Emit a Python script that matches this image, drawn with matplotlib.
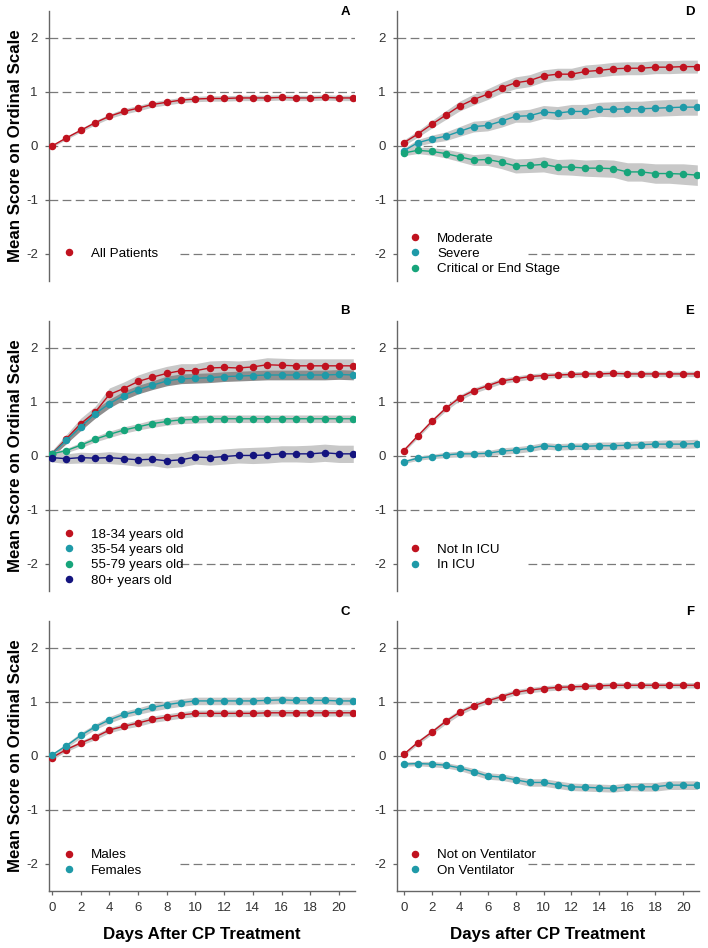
import matplotlib.pyplot as plt
from matplotlib.lines import Line2D
import numpy as np

plt.rcParams['font.family'] = ['Liberation Sans', 'DejaVu Sans']
plt.rcParams['axes.unicode_minus'] = False

days = list(range(22))

# Panel A - all patients
all_mean = [0.00, 0.15, 0.29, 0.43, 0.55, 0.64, 0.70, 0.77, 0.81, 0.85, 0.87, 0.88,
            0.88, 0.89, 0.89, 0.89, 0.90, 0.89, 0.89, 0.90, 0.89, 0.89]
all_se = [0.02, 0.03, 0.03, 0.04, 0.04, 0.05, 0.05, 0.05, 0.05, 0.05, 0.05, 0.05,
          0.05, 0.05, 0.05, 0.05, 0.05, 0.05, 0.05, 0.05, 0.05, 0.05]

# Panel B - age groups
age_18_34 = [0.04, 0.32, 0.60, 0.81, 1.14, 1.25, 1.38, 1.46, 1.53, 1.58, 1.58, 1.63,
             1.64, 1.63, 1.65, 1.69, 1.68, 1.67, 1.67, 1.67, 1.67, 1.67]
age_18_34_se = [0.06, 0.08, 0.10, 0.11, 0.12, 0.12, 0.12, 0.13, 0.13, 0.13, 0.13, 0.13,
                0.13, 0.13, 0.13, 0.13, 0.13, 0.13, 0.13, 0.13, 0.13, 0.13]
age_35_54 = [0.04, 0.29, 0.54, 0.78, 0.97, 1.12, 1.23, 1.31, 1.39, 1.43, 1.44, 1.45,
             1.47, 1.48, 1.49, 1.50, 1.50, 1.50, 1.50, 1.50, 1.51, 1.50]
age_35_54_se = [0.05, 0.06, 0.07, 0.08, 0.08, 0.08, 0.08, 0.08, 0.09, 0.09, 0.09, 0.09,
                0.09, 0.09, 0.09, 0.09, 0.09, 0.09, 0.09, 0.09, 0.09, 0.09]
age_55_79 = [0.04, 0.10, 0.20, 0.31, 0.40, 0.48, 0.54, 0.60, 0.64, 0.67, 0.68, 0.69,
             0.69, 0.69, 0.69, 0.69, 0.69, 0.69, 0.69, 0.69, 0.69, 0.69]
age_55_79_se = [0.04, 0.04, 0.05, 0.05, 0.06, 0.06, 0.06, 0.07, 0.07, 0.07, 0.07, 0.07,
                0.07, 0.07, 0.07, 0.07, 0.07, 0.07, 0.07, 0.07, 0.07, 0.07]
age_80 = [-0.03, -0.05, -0.03, -0.04, -0.03, -0.05, -0.07, -0.06, -0.09, -0.07, -0.02, -0.03,
          -0.01, 0.01, 0.01, 0.02, 0.04, 0.04, 0.04, 0.06, 0.04, 0.04]
age_80_se = [0.08, 0.09, 0.10, 0.10, 0.11, 0.11, 0.12, 0.12, 0.13, 0.13, 0.13, 0.14,
             0.14, 0.14, 0.15, 0.15, 0.15, 0.15, 0.16, 0.16, 0.16, 0.16]

# Panel C - sex
males = [-0.03, 0.12, 0.24, 0.35, 0.48, 0.55, 0.61, 0.68, 0.72, 0.76, 0.79, 0.79,
         0.79, 0.79, 0.79, 0.80, 0.80, 0.80, 0.80, 0.80, 0.80, 0.80]
males_se = [0.03, 0.04, 0.04, 0.05, 0.05, 0.05, 0.06, 0.06, 0.06, 0.06, 0.06, 0.06,
            0.06, 0.06, 0.06, 0.06, 0.06, 0.06, 0.06, 0.06, 0.06, 0.06]
females = [0.02, 0.19, 0.38, 0.54, 0.67, 0.77, 0.83, 0.90, 0.95, 0.99, 1.02, 1.02,
           1.02, 1.02, 1.02, 1.03, 1.04, 1.03, 1.03, 1.03, 1.02, 1.02]
females_se = [0.03, 0.04, 0.05, 0.05, 0.06, 0.06, 0.06, 0.07, 0.07, 0.07, 0.07, 0.07,
              0.07, 0.07, 0.07, 0.07, 0.07, 0.07, 0.07, 0.07, 0.07, 0.07]

# Panel D - severity
moderate = [0.06, 0.22, 0.40, 0.57, 0.74, 0.86, 0.96, 1.08, 1.17, 1.21, 1.30, 1.33,
            1.33, 1.38, 1.40, 1.43, 1.44, 1.44, 1.46, 1.46, 1.47, 1.47]
moderate_se = [0.05, 0.06, 0.07, 0.08, 0.09, 0.10, 0.10, 0.10, 0.11, 0.11, 0.11, 0.11,
               0.11, 0.12, 0.12, 0.12, 0.12, 0.12, 0.12, 0.12, 0.12, 0.12]
severe = [-0.09, 0.06, 0.13, 0.18, 0.27, 0.36, 0.38, 0.46, 0.55, 0.56, 0.63, 0.61,
          0.64, 0.64, 0.68, 0.68, 0.69, 0.69, 0.70, 0.71, 0.72, 0.72]
severe_se = [0.05, 0.06, 0.07, 0.08, 0.09, 0.10, 0.10, 0.11, 0.11, 0.12, 0.12, 0.12,
             0.13, 0.13, 0.13, 0.14, 0.14, 0.14, 0.15, 0.15, 0.15, 0.15]
critical = [-0.13, -0.08, -0.10, -0.14, -0.20, -0.26, -0.25, -0.30, -0.37, -0.36, -0.34, -0.39,
            -0.39, -0.41, -0.41, -0.42, -0.48, -0.48, -0.51, -0.51, -0.52, -0.54]
critical_se = [0.05, 0.06, 0.07, 0.08, 0.09, 0.10, 0.11, 0.12, 0.13, 0.13, 0.14, 0.14,
               0.15, 0.15, 0.16, 0.16, 0.17, 0.17, 0.18, 0.18, 0.19, 0.19]

# Panel E - ICU
not_icu = [0.10, 0.37, 0.64, 0.88, 1.08, 1.21, 1.30, 1.39, 1.43, 1.47, 1.49, 1.50,
           1.51, 1.52, 1.52, 1.53, 1.52, 1.52, 1.52, 1.52, 1.52, 1.52]
not_icu_se = [0.03, 0.04, 0.04, 0.05, 0.05, 0.05, 0.05, 0.05, 0.05, 0.05, 0.05, 0.05,
              0.05, 0.05, 0.05, 0.05, 0.05, 0.05, 0.05, 0.05, 0.05, 0.05]
icu = [-0.11, -0.04, -0.01, 0.02, 0.04, 0.04, 0.05, 0.09, 0.11, 0.14, 0.19, 0.17,
       0.18, 0.18, 0.19, 0.19, 0.20, 0.21, 0.22, 0.22, 0.22, 0.23]
icu_se = [0.03, 0.04, 0.04, 0.05, 0.05, 0.05, 0.05, 0.06, 0.06, 0.06, 0.06, 0.06,
          0.06, 0.06, 0.07, 0.07, 0.07, 0.07, 0.07, 0.08, 0.08, 0.08]

# Panel F - ventilator
not_vent = [0.03, 0.25, 0.44, 0.64, 0.81, 0.93, 1.02, 1.10, 1.18, 1.22, 1.25, 1.27,
            1.28, 1.29, 1.30, 1.31, 1.31, 1.31, 1.31, 1.31, 1.31, 1.31]
not_vent_se = [0.03, 0.04, 0.04, 0.05, 0.05, 0.05, 0.05, 0.05, 0.05, 0.05, 0.05, 0.05,
               0.05, 0.05, 0.05, 0.05, 0.05, 0.05, 0.05, 0.05, 0.05, 0.05]
on_vent = [-0.15, -0.14, -0.15, -0.17, -0.22, -0.29, -0.37, -0.39, -0.44, -0.49, -0.49, -0.53,
           -0.57, -0.58, -0.59, -0.60, -0.57, -0.57, -0.57, -0.54, -0.54, -0.54]
on_vent_se = [0.04, 0.04, 0.05, 0.05, 0.05, 0.06, 0.06, 0.06, 0.06, 0.07, 0.07, 0.07,
              0.07, 0.07, 0.07, 0.07, 0.07, 0.08, 0.08, 0.08, 0.08, 0.08]

RED = '#c0121f'
TEAL = '#1f9aa8'
GREEN = '#17a57b'
NAVY = '#14147f'
BAND = '#c8c8c8'
BAND_DARK = '#8e8e8e'
GRID = '#7a7a7a'

panels = {
    'A': [('All Patients', all_mean, all_se, RED, BAND)],
    'B': [('18-34 years old', age_18_34, age_18_34_se, RED, BAND),
          ('35-54 years old', age_35_54, age_35_54_se, TEAL, BAND_DARK),
          ('55-79 years old', age_55_79, age_55_79_se, GREEN, BAND),
          ('80+ years old', age_80, age_80_se, NAVY, BAND)],
    'C': [('Males', males, males_se, RED, BAND),
          ('Females', females, females_se, TEAL, BAND)],
    'D': [('Moderate', moderate, moderate_se, RED, BAND),
          ('Severe', severe, severe_se, TEAL, BAND),
          ('Critical or End Stage', critical, critical_se, GREEN, BAND)],
    'E': [('Not In ICU', not_icu, not_icu_se, RED, BAND),
          ('In ICU', icu, icu_se, TEAL, BAND)],
    'F': [('Not on Ventilator', not_vent, not_vent_se, RED, BAND),
          ('On Ventilator', on_vent, on_vent_se, TEAL, BAND)],
}

W, H = 708, 948
fig = plt.figure(figsize=(W / 100, H / 100), dpi=100)

# pixel layout: column (left, width, xlim_left, legend offset in days)
cols = {0: (49, 306, -0.21, 0.93), 1: (397, 302, -0.48, 0.81)}
row_tops = [11, 321, 621]
row_h = 270
letter_y = [12, 311, 612]
legend_center = [-2.0, -1.88, -1.98]

order = [['A', 'D'], ['B', 'E'], ['C', 'F']]
x = np.array(days)

for r in range(3):
    for c in range(2):
        key = order[r][c]
        left, width, xl, lg_off = cols[c]
        top = row_tops[r]
        ax = fig.add_axes([left / W, 1 - (top + row_h) / H, width / W, row_h / H])
        ax.set_xlim(xl, 21.12)
        ax.set_ylim(-2.5, 2.5)

        # dashed reference lines; the one at -2 starts after the legend box
        for yv in [2, 1, 0, -1]:
            ax.axhline(yv, color=GRID, lw=0.9, dashes=(7, 3.5), zorder=1)
        ax.axhline(-2, xmin=131 / width, color=GRID, lw=0.9, dashes=(7, 3.5), zorder=1)

        handles = []
        for label, mean, se, color, band in panels[key]:
            m = np.array(mean)
            s = np.array(se)
            ax.fill_between(x, m - s, m + s, color=band, lw=0, zorder=2)
        for label, mean, se, color, band in panels[key]:
            ax.plot(x, mean, color=color, lw=1.0, marker='o', ms=4.4, zorder=3)
            handles.append(Line2D([], [], color=color, marker='o', ms=4.4, ls='none', label=label))

        ax.legend(handles=handles, loc='center left', frameon=False,
                  bbox_to_anchor=(xl + lg_off, legend_center[r]), bbox_transform=ax.transData,
                  fontsize=9.6, handlelength=1.0, handletextpad=1.17, labelspacing=0.22,
                  borderpad=0, borderaxespad=0)

        for side in ['top', 'right']:
            ax.spines[side].set_visible(False)
        ax.spines['left'].set_color('#666666')
        ax.spines['left'].set_linewidth(1.0)
        ax.set_yticks([-2, -1, 0, 1, 2])
        ax.tick_params(axis='y', length=3, width=0.9, color='#666666',
                       labelsize=9.5, labelcolor='#333333', pad=5)

        if r == 2:
            ax.spines['bottom'].set_color('#666666')
            ax.spines['bottom'].set_linewidth(1.0)
            ax.set_xticks(range(0, 21, 2))
            ax.tick_params(axis='x', length=3, width=0.9, color='#666666',
                           labelsize=9.5, labelcolor='#333333', pad=5)
            xlab = 'Days After CP Treatment' if c == 0 else 'Days after CP Treatment'
            ax.set_xlabel(xlab, fontsize=12.2, fontweight='bold', labelpad=9)
        else:
            ax.spines['bottom'].set_visible(False)
            ax.set_xticks([])

        if c == 0:
            fig.text(16 / W, 1 - (top + row_h / 2) / H, 'Mean Score on Ordinal Scale',
                     rotation=90, ha='center', va='center', fontsize=12.2, fontweight='bold')

        lx = 345 if c == 0 else 690
        fig.text(lx / W, 1 - letter_y[r] / H, key, ha='center', va='center',
                 fontsize=9.5, fontweight='bold')

fig.savefig('out.png', dpi=100)
